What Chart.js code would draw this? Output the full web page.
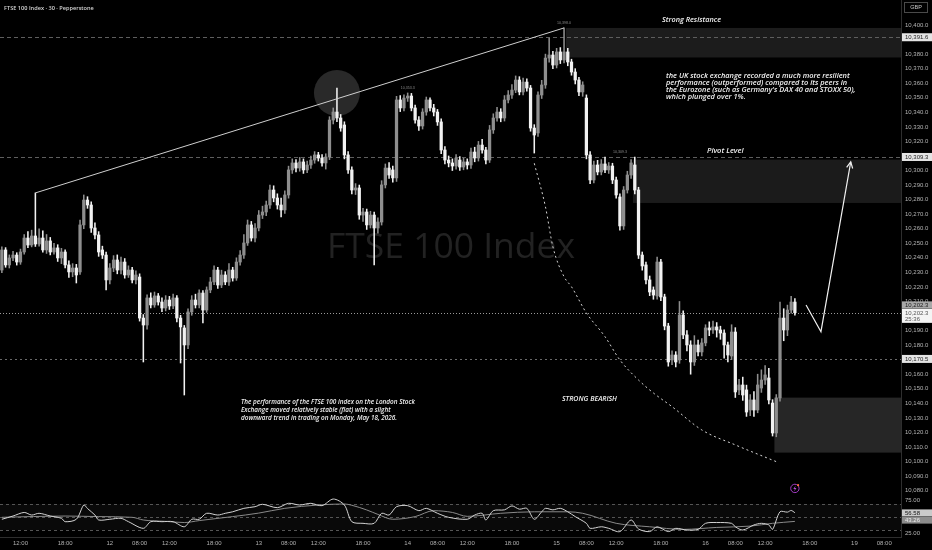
<!DOCTYPE html>
<html><head><meta charset="utf-8">
<script src="https://cdn.jsdelivr.net/npm/chart.js@4.4.1/dist/chart.umd.min.js"></script>
<style>
html,body{margin:0;padding:0;background:#000;overflow:hidden}
#box{position:relative;width:932px;height:550px}
</style></head>
<body><div id="box"><canvas id="chart" width="932" height="550"></canvas></div>
<script>
// ---------- DATA ----------
const sessionDays = ['11','12','13','14','15','16','19'];
const firstSessionBar = 11;      // first candle = 12th half-hour of the 11th's session
const barsPerSession = 40;
const sessionStartMinutes = 240; // sessions start 04:00 (chart time)
const slotCount = 242;
const shownTimes = ['08:00','12:00','18:00'];

const opens = [10231.6,10245.4,10235.1,10239.9,10241.9,10237.1,10244.0,10253.6,10248.8,10255.0,10249.5,10253.6,10245.4,10251.6,10244.0,10246.8,10239.9,10244.0,10235.1,10230.3,10233.0,10230.3,10262.6,10279.7,10276.3,10260.5,10255.7,10245.4,10241.9,10224.8,10233.0,10238.5,10231.6,10237.1,10228.2,10231.6,10224.8,10226.8,10198.6,10193.8,10212.4,10207.6,10213.8,10209.6,10205.5,10211.0,10206.9,10212.4,10198.6,10191.8,10180.1,10202.8,10211.0,10207.6,10215.8,10204.1,10217.9,10223.4,10231.6,10221.3,10228.2,10223.4,10231.6,10226.1,10237.1,10241.9,10250.2,10262.6,10253.6,10260.5,10269.4,10271.5,10276.3,10286.6,10281.1,10276.3,10272.9,10283.2,10300.4,10305.2,10301.7,10305.9,10300.4,10303.8,10307.2,10310.7,10308.6,10305.2,10309.3,10334.7,10340.2,10336.1,10331.3,10310.7,10300.4,10286.6,10288.0,10269.4,10271.5,10262.6,10269.4,10260.5,10264.6,10290.1,10301.7,10300.4,10294.9,10348.5,10343.0,10349.8,10351.2,10343.0,10334.7,10330.6,10340.2,10348.5,10343.0,10340.2,10333.4,10314.1,10307.2,10305.2,10303.1,10307.2,10302.4,10305.9,10303.8,10312.7,10308.6,10317.5,10314.1,10307.2,10327.9,10336.1,10340.2,10336.1,10348.5,10351.9,10355.3,10362.2,10354.0,10360.8,10356.7,10329.2,10325.8,10351.9,10358.8,10377.3,10379.4,10372.5,10381.5,10376.0,10381.5,10374.6,10367.7,10362.2,10354.0,10349.8,10310.7,10293.5,10303.8,10299.0,10304.5,10300.4,10303.1,10293.5,10281.8,10261.9,10286.6,10296.9,10303.8,10286.6,10241.9,10235.1,10224.8,10217.9,10213.8,10237.1,10213.1,10193.1,10169.8,10173.2,10169.8,10200.7,10187.0,10180.1,10168.4,10180.1,10175.3,10181.5,10191.8,10190.4,10192.5,10190.4,10188.3,10180.1,10172.5,10189.0,10149.2,10152.6,10149.2,10135.4,10142.3,10135.4,10150.5,10156.0,10157.4,10140.2,10119.6,10143.7,10198.6,10190.4,10204.1,10209.6];
const highs = [10247.5,10247.0,10242.0,10244.5,10243.5,10246.0,10256.0,10258.0,10259.0,10284.6,10260.0,10258.5,10256.0,10254.0,10250.0,10249.0,10246.5,10245.5,10238.0,10236.0,10235.5,10266.0,10283.2,10282.0,10278.5,10264.0,10258.0,10248.0,10244.0,10236.0,10241.5,10242.0,10240.5,10239.5,10234.5,10233.5,10231.0,10229.0,10201.0,10214.5,10216.0,10216.5,10215.5,10212.5,10214.0,10213.5,10215.0,10214.0,10200.5,10193.5,10205.0,10214.0,10215.0,10218.0,10217.5,10220.0,10226.5,10234.5,10233.5,10231.5,10230.5,10236.0,10233.5,10240.0,10245.0,10256.0,10266.0,10265.0,10263.5,10272.5,10275.5,10279.0,10290.0,10289.5,10284.0,10281.0,10286.0,10303.0,10308.0,10307.5,10309.0,10308.0,10306.5,10310.0,10313.0,10312.5,10311.0,10311.5,10337.0,10343.0,10356.7,10338.5,10333.5,10313.0,10302.5,10291.0,10290.0,10274.0,10273.5,10272.0,10271.5,10267.5,10293.0,10304.5,10305.5,10303.0,10351.0,10351.5,10352.0,10353.3,10353.0,10345.0,10337.0,10342.5,10350.5,10350.0,10345.5,10342.0,10335.5,10316.5,10310.0,10308.0,10311.0,10309.5,10308.5,10308.0,10315.5,10316.0,10320.0,10321.5,10316.0,10331.0,10339.0,10343.5,10342.5,10351.5,10355.0,10359.0,10365.0,10364.5,10363.5,10363.0,10358.5,10331.5,10354.0,10362.0,10380.0,10391.1,10382.0,10384.0,10384.5,10398.0,10384.0,10376.5,10370.0,10364.0,10361.0,10352.0,10313.0,10306.5,10307.0,10307.5,10309.3,10305.5,10305.0,10295.5,10284.0,10289.0,10299.5,10307.5,10309.3,10288.5,10244.0,10237.0,10227.5,10220.0,10240.5,10239.0,10215.0,10195.0,10176.0,10175.5,10210.0,10203.5,10190.0,10183.0,10186.5,10183.5,10184.5,10194.0,10196.0,10196.5,10195.5,10193.0,10190.5,10182.0,10194.0,10192.0,10156.5,10158.0,10152.5,10146.0,10148.0,10160.0,10163.0,10166.0,10164.0,10142.5,10146.0,10209.6,10205.0,10207.5,10213.5,10212.0];
const lows = [10229.8,10233.5,10233.0,10238.0,10235.0,10235.5,10242.5,10247.0,10247.5,10247.8,10248.0,10243.8,10243.0,10242.0,10242.5,10237.5,10236.0,10233.0,10226.5,10227.0,10222.7,10228.5,10260.0,10274.0,10257.5,10253.0,10241.0,10239.5,10217.9,10222.0,10230.5,10229.0,10229.0,10226.0,10226.5,10222.7,10222.0,10196.5,10168.4,10191.0,10205.5,10206.0,10207.5,10203.0,10203.5,10204.5,10205.0,10196.0,10167.7,10145.7,10177.5,10200.5,10205.5,10205.5,10195.2,10202.5,10216.0,10221.5,10219.0,10219.5,10221.5,10221.0,10224.0,10224.5,10235.0,10239.5,10248.5,10251.5,10251.0,10258.5,10267.0,10269.0,10274.0,10278.5,10273.5,10268.1,10270.5,10281.0,10298.0,10299.0,10299.5,10298.0,10298.5,10301.5,10305.0,10306.5,10303.0,10301.0,10307.5,10332.0,10333.5,10327.0,10308.0,10298.0,10284.0,10283.5,10266.5,10265.0,10259.5,10260.5,10235.1,10257.0,10262.5,10288.0,10294.5,10292.0,10292.5,10340.5,10341.0,10347.5,10341.0,10332.5,10327.5,10328.5,10338.0,10341.0,10337.5,10331.0,10311.5,10304.5,10302.5,10300.0,10301.0,10300.0,10300.5,10301.0,10301.5,10306.0,10306.5,10312.0,10304.5,10305.5,10325.5,10334.0,10333.5,10334.0,10346.5,10349.5,10353.5,10352.0,10352.0,10354.5,10327.0,10312.0,10323.5,10349.5,10356.5,10374.5,10370.0,10370.5,10373.5,10374.0,10372.0,10365.5,10359.5,10351.5,10351.0,10308.0,10291.0,10291.5,10297.0,10297.0,10298.5,10298.0,10291.0,10281.0,10259.0,10259.5,10284.5,10294.5,10284.0,10239.5,10231.5,10222.0,10214.0,10211.5,10211.5,10210.5,10190.5,10165.5,10166.5,10165.0,10167.5,10184.5,10176.0,10160.0,10166.0,10172.5,10172.5,10179.5,10186.5,10188.0,10185.5,10184.0,10171.0,10168.5,10170.0,10144.0,10146.0,10142.0,10131.0,10131.5,10131.0,10133.5,10147.5,10153.0,10139.5,10117.5,10117.0,10141.5,10183.0,10186.5,10202.0,10200.5];
const closes = [10245.4,10235.1,10239.9,10241.9,10237.1,10244.0,10253.6,10248.8,10255.0,10249.5,10253.6,10245.4,10251.6,10244.0,10246.8,10239.9,10244.0,10235.1,10230.3,10233.0,10228.2,10262.6,10279.7,10276.3,10260.5,10255.7,10244.0,10241.9,10224.8,10233.0,10238.5,10231.6,10237.1,10228.2,10231.6,10224.8,10228.2,10198.6,10193.8,10212.4,10207.6,10213.8,10209.6,10205.5,10211.0,10206.9,10212.4,10198.6,10192.5,10180.1,10202.8,10211.0,10207.6,10215.8,10204.1,10217.9,10223.4,10231.6,10221.3,10228.2,10223.4,10231.6,10226.1,10237.1,10241.9,10250.2,10262.6,10253.6,10260.5,10269.4,10271.5,10276.3,10286.6,10281.1,10276.3,10272.9,10283.2,10300.4,10305.2,10301.7,10305.9,10300.4,10303.8,10307.2,10310.7,10308.6,10305.2,10309.3,10334.7,10340.2,10336.1,10329.2,10310.7,10300.4,10286.6,10288.0,10269.4,10271.5,10262.6,10269.4,10260.5,10264.6,10290.1,10301.7,10296.9,10294.9,10348.5,10343.0,10349.8,10351.2,10343.0,10334.7,10330.6,10340.2,10348.5,10343.0,10340.2,10333.4,10314.1,10307.2,10305.2,10303.1,10308.6,10302.4,10305.9,10303.8,10312.7,10308.6,10317.5,10314.1,10307.2,10327.9,10336.1,10340.2,10336.1,10348.5,10351.9,10355.3,10362.2,10354.0,10360.8,10356.7,10329.2,10324.4,10351.9,10358.8,10377.3,10379.4,10372.5,10381.5,10376.0,10381.5,10374.6,10367.7,10362.2,10354.0,10358.8,10310.7,10293.5,10303.8,10299.0,10304.5,10300.4,10303.1,10293.5,10283.2,10261.9,10286.6,10296.9,10305.2,10286.6,10241.9,10234.4,10224.8,10216.5,10214.4,10237.1,10213.1,10193.1,10168.4,10173.2,10168.4,10200.7,10187.0,10180.1,10168.4,10180.1,10175.3,10181.5,10191.8,10190.4,10192.5,10190.4,10188.3,10180.1,10173.2,10189.0,10147.8,10152.6,10145.7,10134.0,10142.3,10135.4,10152.6,10156.0,10159.5,10142.3,10119.6,10143.7,10198.6,10190.4,10204.1,10209.6,10202.3];

const rsiBars = [0,3,6,8,10,13,16,17,20,22,23,25,26,29,32,34,38,40,43,46,49,51,53,55,58,60,62,65,68,70,74,77,80,83,86,89,92,94,97,100,102,104,106,109,112,114,117,120,125,127,129,130,132,135,137,139,141,143,145,146,148,150,152,154,157,158,161,163,166,169,171,174,176,179,181,184,187,189,192,196,197,199,202,204,206,207,209,211,212,213];
const rsiValues = [46.5,51.5,57,53,55.7,51.5,48,42.8,46.5,68.4,63,53,45.4,46.5,48,42.8,32.6,42.8,42.8,42.8,35,46.5,46.5,55.7,53,55.7,58,63.3,65.8,69.5,64.3,71,68.4,71,67.4,77.6,68.4,42.8,40.3,40.3,55.7,53,65.8,67.4,59.7,63.3,55.7,49.5,46.5,53,55.7,45.4,59.7,61,67,62,63.3,46.5,58,63.3,61,63.3,58,50.6,40.3,32.6,35,32.6,27.6,45.4,31.6,27.6,35,27.6,32.6,30,31,40.3,41.5,40.3,35,30,37.8,40.3,37.8,31,58,57.5,60,56.58];
const maBars = [0,17,26,35,38,44,49,53,62,69,76,85,92,94,98,101,105,111,116,121,125,134,143,152,156,165,174,183,192,201,207,213];
const maValues = [49.5,51.5,50.6,49.5,45.4,43.3,41.5,44.5,50.6,56,63.3,68.4,70,68,60.8,54,46.5,50.6,59.7,57,51,55.7,58,58,55.7,40.3,35,31,34,36,40.3,43.26];

const trendBars = [9,151];
const trendPrices = [10284.6,10398.0];
const curveBars = [143,146,148,151,153,157,162,166,171,175,180,188,197,208];
const curvePrices = [10305.0,10275.1,10247.6,10227.0,10220.1,10202.1,10185.8,10169.8,10156.0,10147.1,10137.7,10121.7,10111.4,10099.9];
const projBars = [216,220,228];
const projPrices = [10207.6,10189.2,10306.0];

const resistanceLevel = 10391.6, pivotLevel = 10309.3, supportLevel = 10170.5, lastPrice = 10202.3;
const zoneStartBars = [152,170,208];
const zoneTops = [10398.0,10307.5,10143.9];
const zoneBottoms = [10377.7,10277.7,10106.1];
const circleBar = 90, circlePrice = 10353.3;
const rsiLast = 56.58, rsiMaLast = 43.26;
const rsiLevels = [70,50,30];
const rsiTickValues = [75,25];
const priceMin = 10075.6, priceMax = 10417.2, priceTickTop = 10400, priceStep = 10;
const rsiMin = 19.3, rsiMax = 80.7;
const peakLabels = [{bar:151, price:10398.0}, {bar:109, price:10353.3}, {bar:166, price:10309.3}];

// ---------- BUILD ----------
const categories = [];
for (let k = 0; k < slotCount; k++) {
  const g = k + firstSessionBar;
  const d = sessionDays[Math.floor(g / barsPerSession)];
  const m = sessionStartMinutes + 30 * (g % barsPerSession);
  categories.push(d + ' ' + String(Math.floor(m / 60)).padStart(2, '0') + ':' + String(m % 60).padStart(2, '0'));
}
const UP = '#8e8e8e', DOWN = '#f2f2f2';
const bodies = opens.map((o, i) => [o, closes[i]]);
const wicks = lows.map((l, i) => [l, highs[i]]);
const colors = opens.map((o, i) => closes[i] >= o ? UP : DOWN);
const pts = (bars, vals) => bars.map((b, i) => ({x: categories[b], y: vals[i]}));
const fmt = v => v.toLocaleString('en-US', {minimumFractionDigits: 1, maximumFractionDigits: 1});
const axisMarkers = [resistanceLevel, pivotLevel, supportLevel, lastPrice];

function fitFont(ctx, text, style, family, target) {
  ctx.font = style + ' 20px ' + family;
  const w = ctx.measureText(text).width;
  return style + ' ' + (20 * target / w).toFixed(2) + 'px ' + family;
}

const overlay = {
  id: 'overlay',
  beforeDatasetsDraw(chart) {
    const {ctx, chartArea: a, scales: {x, y, rsi}} = chart;
    const slot = x.getPixelForValue(1) - x.getPixelForValue(0);
    ctx.save();
    // watermark
    ctx.fillStyle = '#222222';
    ctx.font = fitFont(ctx, 'FTSE 100 Index', 'normal', '"Open Sans"', 248);
    ctx.textAlign = 'center'; ctx.textBaseline = 'alphabetic';
    ctx.fillText('FTSE 100 Index', 451, 258);
    // zones
    const zoneColors = ['#1c1c1c', '#1b1b1b', '#262626'];
    zoneStartBars.forEach((b, i) => {
      const left = x.getPixelForValue(b) - slot / 2;
      const t = y.getPixelForValue(zoneTops[i]), bt = y.getPixelForValue(zoneBottoms[i]);
      ctx.fillStyle = zoneColors[i];
      ctx.fillRect(left, t, a.right - left, bt - t);
    });
    // circle
    ctx.fillStyle = '#292929';
    ctx.beginPath();
    ctx.arc(x.getPixelForValue(circleBar), y.getPixelForValue(circlePrice), 23, 0, Math.PI * 2);
    ctx.fill();
    // level lines
    const hline = (py, dash, col) => {
      ctx.strokeStyle = col; ctx.lineWidth = 1; ctx.setLineDash(dash);
      ctx.beginPath(); ctx.moveTo(a.left, Math.round(py) + 0.5); ctx.lineTo(a.right, Math.round(py) + 0.5); ctx.stroke();
    };
    hline(y.getPixelForValue(resistanceLevel), [4, 3], '#5e5e5e');
    hline(y.getPixelForValue(pivotLevel), [4, 3], '#5e5e5e');
    hline(y.getPixelForValue(supportLevel), [2, 3], '#6a6a6a');
    hline(y.getPixelForValue(lastPrice), [1, 2], '#9a9a9a');
    // rsi band and levels
    ctx.setLineDash([]);
    ctx.fillStyle = 'rgba(255,255,255,0.035)';
    const r70 = rsi.getPixelForValue(70), r30 = rsi.getPixelForValue(30);
    ctx.fillRect(a.left, r70, a.right - a.left, r30 - r70);
    rsiLevels.forEach(v => hline(rsi.getPixelForValue(v), [3, 3], '#555555'));
    ctx.restore();
  },
  afterDatasetsDraw(chart) {
    const {ctx, scales: {x, y}} = chart;
    ctx.save();
    // arrowhead
    const n = projBars.length;
    const x1 = x.getPixelForValue(projBars[n - 1]), y1 = y.getPixelForValue(projPrices[n - 1]);
    const x0 = x.getPixelForValue(projBars[n - 2]), y0 = y.getPixelForValue(projPrices[n - 2]);
    const ang = Math.atan2(y1 - y0, x1 - x0);
    ctx.strokeStyle = '#f0f0f0'; ctx.lineWidth = 1.2;
    ctx.beginPath();
    ctx.moveTo(x1 - 7 * Math.cos(ang - 0.45), y1 - 7 * Math.sin(ang - 0.45));
    ctx.lineTo(x1, y1);
    ctx.lineTo(x1 - 7 * Math.cos(ang + 0.45), y1 - 7 * Math.sin(ang + 0.45));
    ctx.stroke();
    // texts
    ctx.fillStyle = '#f0f0f0'; ctx.textAlign = 'left'; ctx.textBaseline = 'alphabetic';
    const fam = '"Open Sans"', st = 'italic 600';
    ctx.font = fitFont(ctx, 'Strong Resistance', st, fam, 59);
    ctx.fillText('Strong Resistance', 662, 22);
    const p1 = ['the UK stock exchange recorded a much more resilient',
                'performance (outperformed) compared to its peers in',
                "the Eurozone (such as Germany's DAX 40 and STOXX 50),",
                'which plunged over 1%.'];
    ctx.font = fitFont(ctx, p1[0], st, fam, 184);
    p1.forEach((t, i) => ctx.fillText(t, 666, 77.5 + i * 7.2));
    ctx.font = fitFont(ctx, 'Pivot Level', st, fam, 36.5);
    ctx.fillText('Pivot Level', 707, 152.5);
    ctx.font = fitFont(ctx, 'STRONG BEARISH', st, fam, 55);
    ctx.fillText('STRONG BEARISH', 562, 400.5);
    const p2 = ['The performance of the FTSE 100 index on the London Stock',
                'Exchange moved relatively stable (flat) with a slight',
                'downward trend in trading on Monday, May 18, 2026.'];
    ctx.font = fitFont(ctx, p2[0], st, fam, 174);
    p2.forEach((t, i) => ctx.fillText(t, 241, 403.5 + i * 8.1));
    // peak labels
    ctx.fillStyle = '#8a8a8a'; ctx.textAlign = 'center';
    ctx.font = '3.6px "Liberation Sans"';
    peakLabels.forEach(p => ctx.fillText(fmt(p.price), x.getPixelForValue(p.bar), y.getPixelForValue(p.price) - 4));
    // header
    ctx.textAlign = 'left'; ctx.fillStyle = '#d6d6d6';
    ctx.font = fitFont(ctx, 'FTSE 100 Index · 30 · Pepperstone', '600', fam, 90);
    ctx.fillText('FTSE 100 Index · 30 · Pepperstone', 4, 9.5);
    // alert icon
    const ix = x.getPixelForValue(213), iy = y.getPixelForValue(10081.5);
    ctx.strokeStyle = '#a33bc4'; ctx.lineWidth = 1;
    ctx.beginPath(); ctx.arc(ix, iy, 4.2, 0, Math.PI * 2); ctx.stroke();
    ctx.fillStyle = '#b04ad0';
    ctx.beginPath(); ctx.moveTo(ix + 0.8, iy - 3); ctx.lineTo(ix - 1.6, iy + 0.5); ctx.lineTo(ix, iy + 0.5);
    ctx.lineTo(ix - 0.8, iy + 3); ctx.lineTo(ix + 1.6, iy - 0.5); ctx.lineTo(ix, iy - 0.5); ctx.closePath(); ctx.fill();
    ctx.fillStyle = '#ff6a3d';
    ctx.beginPath(); ctx.arc(ix + 3.2, iy - 3.2, 1.1, 0, Math.PI * 2); ctx.fill();
    ctx.restore();
  },
  afterDraw(chart) {
    const {ctx, chartArea: a, scales: {y, rsi}} = chart;
    ctx.save();
    const x0 = a.right + 1, W = chart.width - x0;
    const box = (top, h, bg, fg, lines) => {
      ctx.fillStyle = bg; ctx.fillRect(x0, top, W, h);
      ctx.fillStyle = fg; ctx.font = '6px "Liberation Sans"'; ctx.textAlign = 'left'; ctx.textBaseline = 'middle';
      lines.forEach((t, i) => ctx.fillText(t, x0 + 3, top + 4 + i * 6.5));
    };
    const yR = y.getPixelForValue(resistanceLevel);
    box(yR - 4, 8, '#e4e4e4', '#222', [fmt(resistanceLevel)]);
    const yP = y.getPixelForValue(pivotLevel);
    box(yP - 4, 8, '#e4e4e4', '#222', [fmt(pivotLevel)]);
    const yS = y.getPixelForValue(supportLevel);
    box(yS - 4, 8, '#e4e4e4', '#222', [fmt(supportLevel)]);
    const yL = y.getPixelForValue(lastPrice);
    box(yL - 11.3, 7.3, '#a8a8a8', '#1a1a1a', [fmt(lastPrice)]);
    box(yL - 3.8, 14, '#f4f4f4', '#555', [fmt(lastPrice), '25:36']);
    const yr1 = rsi.getPixelForValue(rsiLast);
    box(yr1 - 3.3, 7, '#cacaca', '#111', [rsiLast.toFixed(2)]);
    box(yr1 + 3.9, 7, '#8c8c8c', '#eee', [rsiMaLast.toFixed(2)]);
    // GBP box
    ctx.strokeStyle = '#4a4a4a'; ctx.lineWidth = 1;
    ctx.strokeRect(904.5, 2.5, 23, 10);
    ctx.fillStyle = '#c8c8c8'; ctx.font = '5.5px "Liberation Sans"'; ctx.textAlign = 'center'; ctx.textBaseline = 'middle';
    ctx.fillText('GBP', 916, 7.8);
    ctx.restore();
  }
};

Chart.defaults.font.family = '"Liberation Sans", Arial, sans-serif';
Chart.defaults.color = '#b4b4b4';

const zeroPad = s => { s.paddingTop = 0; s.paddingBottom = 0; s.paddingLeft = 0; s.paddingRight = 0; };

new Chart(document.getElementById('chart'), {
  type: 'bar',
  data: {
    labels: categories,
    datasets: [
      {type: 'line', label: 'Trendline', data: pts(trendBars, trendPrices), yAxisID: 'y', borderColor: '#cfcfcf', borderWidth: 1, pointRadius: 0, order: 0},
      {type: 'line', label: 'Bearish curve', data: pts(curveBars, curvePrices), yAxisID: 'y', borderColor: '#d6d6d6', borderWidth: 1, borderDash: [2, 3], pointRadius: 0, cubicInterpolationMode: 'monotone', order: 0},
      {type: 'line', label: 'Projection', data: pts(projBars, projPrices), yAxisID: 'y', borderColor: '#f0f0f0', borderWidth: 1.2, pointRadius: 0, order: 0},
      {label: 'Body', data: bodies, yAxisID: 'y', backgroundColor: colors, barThickness: 2.6, grouped: false, borderWidth: 0, order: 1},
      {label: 'Wick', data: wicks, yAxisID: 'y', backgroundColor: colors, barThickness: 0.9, grouped: false, borderWidth: 0, order: 2},
      {type: 'line', label: 'RSI', data: pts(rsiBars, rsiValues), yAxisID: 'rsi', borderColor: '#d2d2d2', borderWidth: 1, pointRadius: 0, tension: 0.3, order: 0},
      {type: 'line', label: 'RSI MA', data: pts(maBars, maValues), yAxisID: 'rsi', borderColor: '#8a8a8a', borderWidth: 1, pointRadius: 0, cubicInterpolationMode: 'monotone', order: 0}
    ]
  },
  options: {
    responsive: false, animation: false, events: [],
    layout: {padding: 0},
    plugins: {legend: {display: false}, tooltip: {enabled: false}},
    scales: {
      x: {
        grid: {display: false, drawTicks: false},
        border: {display: true, color: '#2e2e2e'},
        ticks: {
          autoSkip: false, maxRotation: 0, padding: 3, color: '#b0b0b0', font: {size: 6},
          callback(v) {
            const [d, t] = this.getLabelForValue(v).split(' ');
            if (t === '04:00') return d;
            if (shownTimes.includes(t)) return t;
            return null;
          }
        },
        afterFit(s) { s.height = 13; zeroPad(s); }
      },
      y: {
        position: 'right', stack: 'panes', stackWeight: 497,
        min: priceMin, max: priceMax,
        grid: {display: false, drawTicks: false},
        border: {display: true, color: '#2e2e2e'},
        ticks: {stepSize: priceStep, autoSkip: false, maxTicksLimit: 200, padding: 4, color: '#b4b4b4', font: {size: 6}, crossAlign: 'near', callback: v => fmt(v)},
        afterBuildTicks(s) {
          const vals = [];
          for (let v = Math.ceil(priceMin / priceStep) * priceStep; v <= priceTickTop; v += priceStep) {
            if (!axisMarkers.some(m => Math.abs(m - v) < 3)) vals.push({value: v});
          }
          s.ticks = vals;
        },
        afterFit(s) { s.width = 31; zeroPad(s); }
      },
      rsi: {
        position: 'right', stack: 'panes', stackWeight: 40,
        min: rsiMin, max: rsiMax,
        grid: {display: false, drawTicks: false},
        border: {display: true, color: '#2e2e2e'},
        ticks: {autoSkip: false, padding: 4, color: '#b4b4b4', font: {size: 6}, crossAlign: 'near', callback: v => v.toFixed(2)},
        afterBuildTicks(s) { s.ticks = rsiTickValues.map(v => ({value: v})); },
        afterFit(s) { s.width = 31; zeroPad(s); }
      }
    }
  },
  plugins: [overlay]
});
</script>
</body></html>
